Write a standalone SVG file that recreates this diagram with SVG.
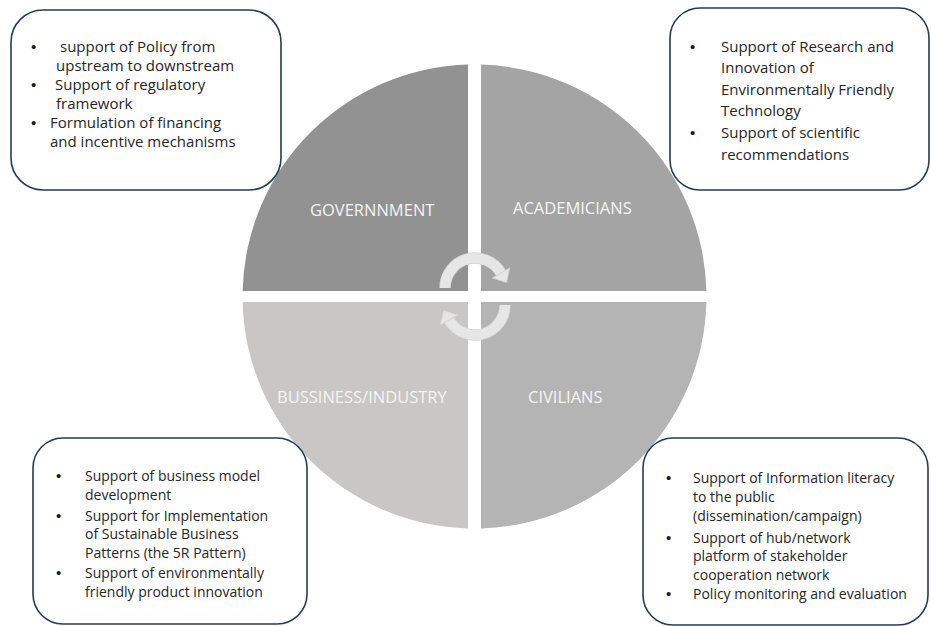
<svg xmlns="http://www.w3.org/2000/svg" width="931" height="626" viewBox="0 0 931 626">
<style>
.q{stroke:none}
.ql{font-family:"Open Sans","Liberation Sans",sans-serif;font-size:16.5px;fill:#f4f4f4}
.box{fill:#ffffff;stroke:#263a5a;stroke-width:1.6}
.t{font-family:"Open Sans","Liberation Sans",sans-serif;font-size:15px;fill:#262626}
.s{font-size:14px}
.b{font-family:"Liberation Sans",Arial,sans-serif;font-size:15px;fill:#1a1a1a}
.arc{fill:none;stroke:#e6e6e6;stroke-width:10}
.arcO{fill:none;stroke:#d2d2d2;stroke-width:11.5}
.head{fill:#e6e6e6;stroke:#d2d2d2;stroke-width:0.8}
</style>
<rect width="931" height="626" fill="#ffffff"/>
<g id="circle">
<g id="government">
<path class="q" fill="#929292" d="M468,291 L468,64.6 A232,232 0 0 0 242.6,291 Z"/>
<text class="ql" x="310" y="216">GOVERNNMENT</text>
</g>
<g id="academicians">
<path class="q" fill="#a4a4a4" d="M481,291 L481,64.6 A232,232 0 0 1 706.4,291 Z"/>
<text class="ql" x="513" y="214">ACADEMICIANS</text>
</g>
<g id="business">
<path class="q" fill="#c8c7c6" d="M468,302 L242.6,302 A232,232 0 0 0 468,528.4 Z"/>
<text class="ql" x="277" y="403">BUSSINESS/INDUSTRY</text>
</g>
<g id="civilians">
<path class="q" fill="#b4b4b5" d="M481,302 L706.4,302 A232,232 0 0 1 481,528.4 Z"/>
<text class="ql" x="528" y="403">CIVILIANS</text>
</g>
</g>
<g id="connectors">
<path class="arcO" d="M445,288 A30,30 0 0 1 501,273"/>
<path class="arc" d="M445,288 A30,30 0 0 1 501,273"/>
<polygon class="head" points="509.7,268 492.3,278 506.5,282.5"/>
<path class="arcO" d="M505,305 A30,30 0 0 1 449,320"/>
<path class="arc" d="M505,305 A30,30 0 0 1 449,320"/>
<polygon class="head" points="440.3,325 457.7,315 443.5,310.5"/>
</g>
<g id="box-government">
<rect class="box" x="11" y="10" width="270" height="180" rx="32"/>
<text class="b"><tspan x="31" y="52">•</tspan><tspan x="31" y="90">•</tspan><tspan x="31" y="128">•</tspan></text>
<text class="t"><tspan x="60" y="52">support of Policy from</tspan><tspan x="56" y="71">upstream to downstream</tspan><tspan x="55" y="90">Support of regulatory</tspan><tspan x="56" y="109">framework</tspan><tspan x="50" y="128">Formulation of financing</tspan><tspan x="50" y="147">and incentive mechanisms</tspan></text>
</g>
<g id="box-academicians">
<rect class="box" x="670" y="8" width="259" height="182" rx="30"/>
<text class="b"><tspan x="690" y="52">•</tspan><tspan x="690" y="138">•</tspan></text>
<text class="t"><tspan x="721" y="52">Support of Research and</tspan><tspan x="721" y="73">Innovation of</tspan><tspan x="721" y="95">Environmentally Friendly</tspan><tspan x="721" y="116">Technology</tspan><tspan x="721" y="138">Support of scientific</tspan><tspan x="721" y="160">recommendations</tspan></text>
</g>
<g id="box-business">
<rect class="box" x="33" y="438" width="274" height="186" rx="30"/>
<text class="b"><tspan x="56" y="481">•</tspan><tspan x="56" y="521">•</tspan><tspan x="56" y="578">•</tspan></text>
<text class="t s"><tspan x="85" y="481">Support of business model</tspan><tspan x="85" y="500">development</tspan><tspan x="85" y="521">Support for Implementation</tspan><tspan x="85" y="539">of Sustainable Business</tspan><tspan x="85" y="558">Patterns (the 5R Pattern)</tspan><tspan x="85" y="578">Support of environmentally</tspan><tspan x="85" y="597">friendly product innovation</tspan></text>
</g>
<g id="box-civilians">
<rect class="box" x="643" y="438" width="285" height="187" rx="30"/>
<text class="b"><tspan x="666" y="483">•</tspan><tspan x="666" y="543">•</tspan><tspan x="666" y="599">•</tspan></text>
<text class="t s"><tspan x="693" y="483">Support of Information literacy</tspan><tspan x="693" y="502">to the public</tspan><tspan x="693" y="521">(dissemination/campaign)</tspan><tspan x="693" y="543">Support of hub/network</tspan><tspan x="693" y="561">platform of stakeholder</tspan><tspan x="693" y="580">cooperation network</tspan><tspan x="693" y="599">Policy monitoring and evaluation</tspan></text>
</g>
</svg>
